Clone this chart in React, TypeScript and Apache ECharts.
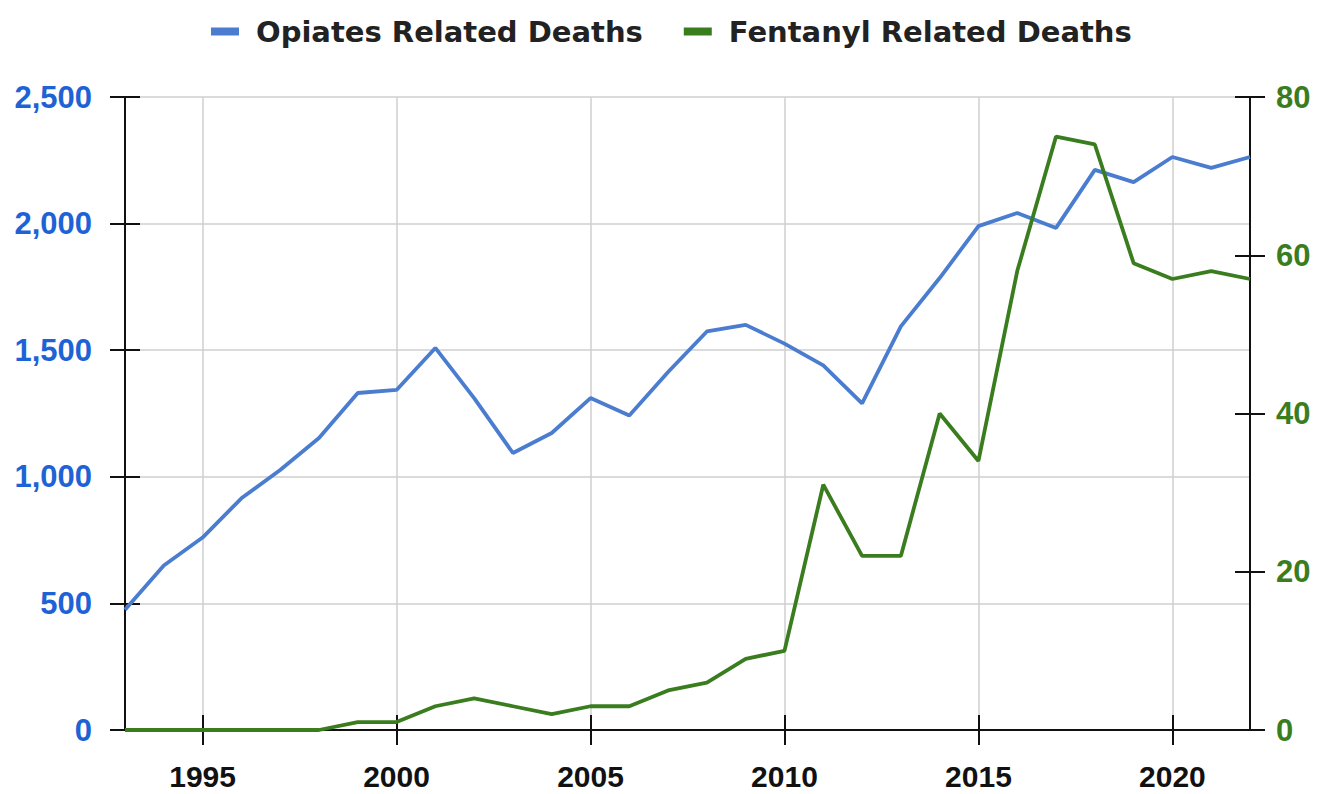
import React, { useEffect, useRef } from "react";
import * as echarts from "echarts";

const years = [
  "1993", "1994", "1995", "1996", "1997", "1998", "1999", "2000", "2001", "2002",
  "2003", "2004", "2005", "2006", "2007", "2008", "2009", "2010", "2011", "2012",
  "2013", "2014", "2015", "2016", "2017", "2018", "2019", "2020", "2021", "2022",
];
const opiates = [
  475, 650, 760, 915, 1027, 1153, 1331, 1343, 1509, 1311,
  1094, 1173, 1311, 1242, 1414, 1574, 1600, 1526, 1440, 1290,
  1594, 1785, 1990, 2042, 1983, 2212, 2164, 2263, 2220, 2263,
];
const fentanyl = [
  0, 0, 0, 0, 0, 0, 1, 1, 3, 4,
  3, 2, 3, 3, 5, 6, 9, 10, 31, 22,
  22, 40, 34, 58, 75, 74, 59, 57, 58, 57,
];
const seriesNames = ["Opiates Related Deaths", "Fentanyl Related Deaths"];

const BLUE_LINE = "#4A7CD0";
const BLUE_TEXT = "#1E63D6";
const GREEN = "#3A7D1F";
const FONT = "'Liberation Sans', Arial, sans-serif";

export default function App() {
  const ref = useRef<HTMLDivElement>(null);

  useEffect(() => {
    document.body.style.margin = "0";
    if (!ref.current) return;
    const chart = echarts.init(ref.current, null, { renderer: "svg" });
    const every5 = (_i: number, v: string) => Number(v) % 5 === 0;
    const tickStyle = { color: "#111", width: 2 };
    const baseX = {
      type: "category" as const,
      data: years,
      boundaryGap: false,
      position: "bottom" as const,
    };
    chart.setOption({
      animation: false,
      backgroundColor: "#fff",
      legend: {
        data: seriesNames,
        left: 211,
        top: 17,
        padding: 0,
        itemWidth: 28,
        itemHeight: 8,
        itemGap: 41,
        icon: "rect",
        textStyle: {
          fontFamily: "'DejaVu Sans', sans-serif",
          fontWeight: "bold",
          fontSize: 29,
          color: "#222",
          padding: [0, 0, 0, 12],
        },
      },
      grid: { left: 125, right: 69, top: 97, bottom: 64, containLabel: false },
      xAxis: [
        {
          ...baseX,
          axisLine: { show: true, lineStyle: { color: "#111", width: 2 } },
          axisTick: { show: true, interval: every5, length: 15, lineStyle: tickStyle },
          axisLabel: {
            interval: every5,
            margin: 34,
            lineHeight: 24,
            fontFamily: FONT,
            fontWeight: "bold",
            fontSize: 30,
            color: "#111",
          },
          splitLine: { show: true, interval: every5, lineStyle: { color: "#cfcfcf", width: 1.5 } },
        },
        {
          ...baseX,
          axisLine: { show: false },
          axisTick: { show: true, inside: true, interval: every5, length: 15, lineStyle: tickStyle },
          axisLabel: { show: false },
          splitLine: { show: false },
        },
      ],
      yAxis: [
        {
          type: "value",
          position: "left",
          min: 0,
          max: 2500,
          interval: 500,
          axisLine: { show: true, lineStyle: { color: "#111", width: 2 } },
          axisTick: { show: true, length: 15, lineStyle: tickStyle },
          axisLabel: {
            margin: 33,
            fontFamily: FONT,
            fontWeight: "bold",
            fontSize: 31,
            color: BLUE_TEXT,
            formatter: (v: number) => v.toLocaleString("en-US"),
          },
          splitLine: { show: true, lineStyle: { color: "#cfcfcf", width: 1.5 } },
        },
        {
          type: "value",
          position: "right",
          min: 0,
          max: 80,
          interval: 20,
          axisLine: { show: true, lineStyle: { color: "#111", width: 2 } },
          axisTick: { show: true, length: 15, lineStyle: tickStyle },
          axisLabel: {
            margin: 26,
            fontFamily: FONT,
            fontWeight: "bold",
            fontSize: 31,
            color: GREEN,
          },
          splitLine: { show: false },
        },
        {
          type: "value",
          position: "left",
          min: 0,
          max: 2500,
          interval: 500,
          axisLine: { show: false },
          axisTick: { show: true, inside: true, length: 15, lineStyle: tickStyle },
          axisLabel: { show: false },
          splitLine: { show: false },
        },
        {
          type: "value",
          position: "right",
          min: 0,
          max: 80,
          interval: 20,
          axisLine: { show: false },
          axisTick: { show: true, inside: true, length: 15, lineStyle: tickStyle },
          axisLabel: { show: false },
          splitLine: { show: false },
        },
      ],
      series: [
        {
          name: seriesNames[0],
          type: "line",
          data: opiates,
          xAxisIndex: 0,
          yAxisIndex: 0,
          showSymbol: false,
          symbol: "none",
          color: BLUE_LINE,
          lineStyle: { color: BLUE_LINE, width: 3.8 },
          z: 3,
        },
        {
          name: seriesNames[1],
          type: "line",
          data: fentanyl,
          xAxisIndex: 0,
          yAxisIndex: 1,
          showSymbol: false,
          symbol: "none",
          color: GREEN,
          lineStyle: { color: GREEN, width: 3.8 },
          z: 4,
        },
      ],
    });
    return () => chart.dispose();
  }, []);

  return <div ref={ref} style={{ width: 1319, height: 794 }} />;
}
